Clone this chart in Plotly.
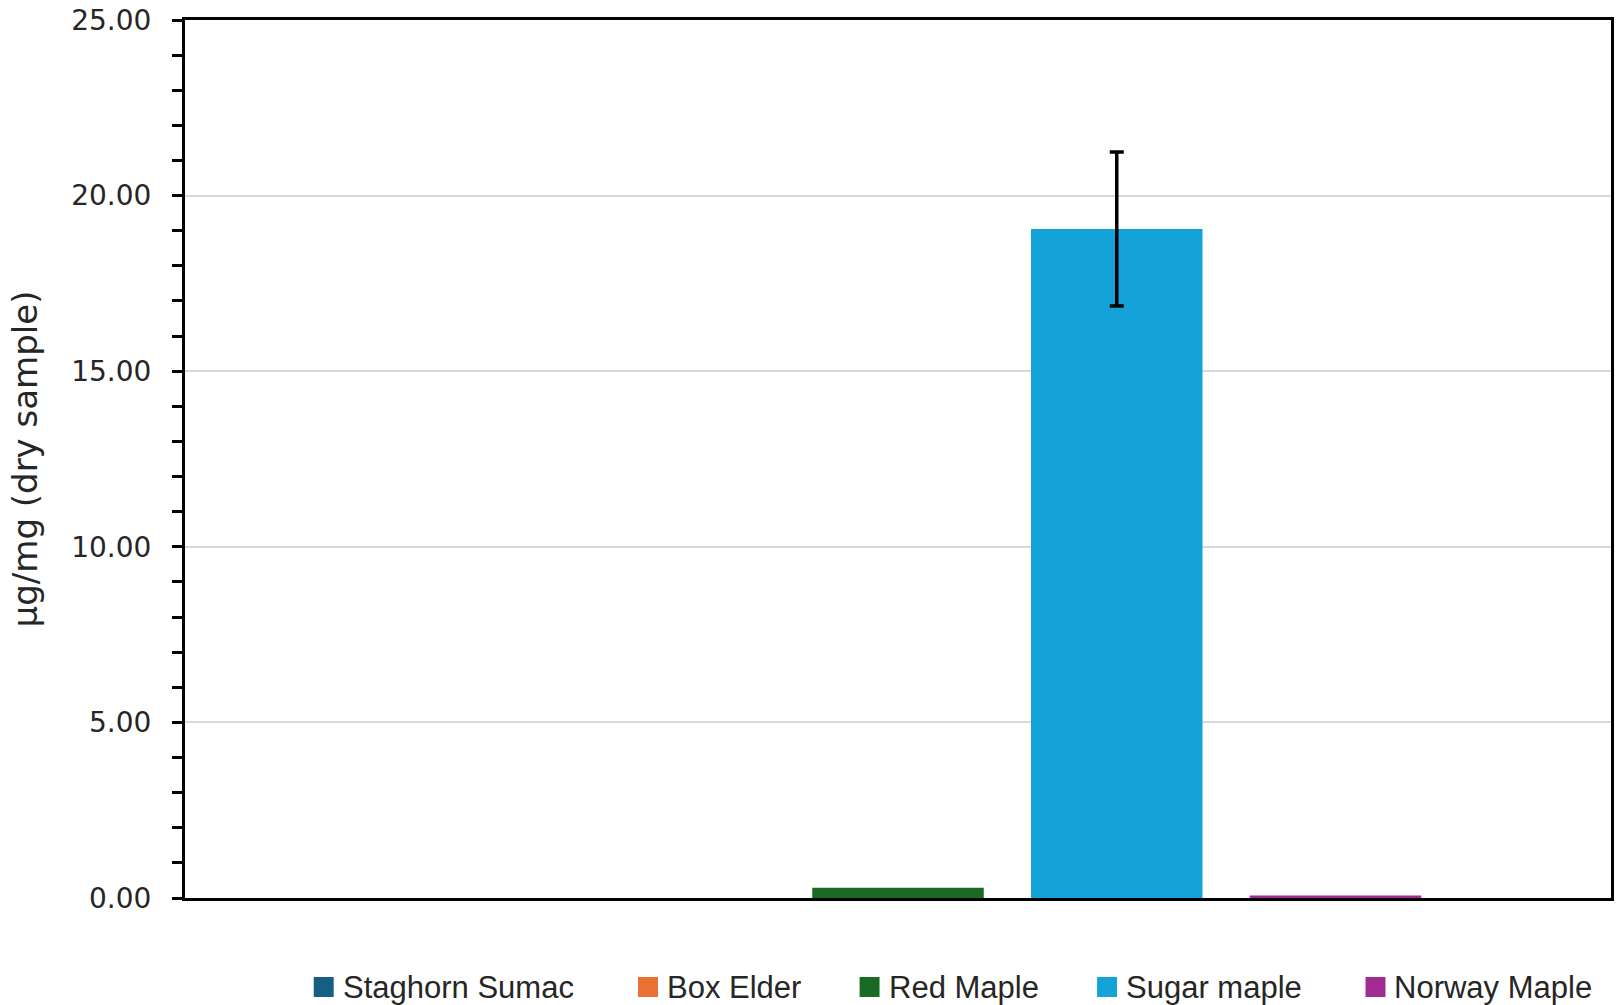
import plotly.graph_objects as go

# Leaf sample concentrations (µg/mg, dry sample) by tree species
species = ["Staghorn Sumac", "Box Elder", "Red Maple", "Sugar maple", "Norway Maple"]
means = [0.0, 0.0, 0.29, 19.05, 0.07]
errors = [None, None, None, 2.19, None]
colors = ["#156082", "#E97132", "#196B24", "#13A3D8", "#A02B93"]

y_ticks = [0, 5, 10, 15, 20, 25]
y_tick_text = ["0.00", "5.00", "10.00", "15.00", "20.00", "25.00"]

W, H = 1616, 1005
L, R, T, B = 185, 2, 20, 107
plot_w, plot_h = W - L - R, H - T - B


def px_x(px):
    return (px - L) / plot_w


def px_y(py):
    return (H - B - py) / plot_h


fig = go.Figure()
for name, val, err, col in zip(species, means, errors, colors):
    fig.add_trace(go.Bar(
        x=[""],
        y=[val],
        name=name,
        marker=dict(color=col, line=dict(width=0)),
        error_y=dict(type="data", array=[err], visible=err is not None,
                     color="black", thickness=3.5, width=7),
        showlegend=False,
    ))

# Legend drawn below the plot: colour squares with species names
legend_square_left = [314, 639, 861, 1099, 1368]
for name, col, sx in zip(species, colors, legend_square_left):
    fig.add_shape(type="rect", xref="paper", yref="paper",
                  x0=px_x(sx), x1=px_x(sx + 20), y0=px_y(997), y1=px_y(977),
                  fillcolor=col, line=dict(width=0))
    fig.add_annotation(text=name, xref="paper", yref="paper",
                       x=px_x(sx + 27), y=px_y(987), xanchor="left", yanchor="middle",
                       showarrow=False,
                       font=dict(family="Liberation Sans, Arial, sans-serif",
                                 size=31, color="#262626"))

fig.update_layout(
    barmode="group",
    bargap=0.233,
    bargroupgap=0.216,
    width=W,
    height=H,
    margin=dict(l=L, r=R, t=T, b=B),
    paper_bgcolor="white",
    plot_bgcolor="white",
    font=dict(family="DejaVu Sans, sans-serif", color="#262626", size=28),
    showlegend=False,
)

fig.update_xaxes(
    range=[-0.5, 0.5],
    showticklabels=False,
    ticks="",
    showgrid=False,
    showline=True, linecolor="black", linewidth=3,
    mirror=True,
)

fig.update_yaxes(
    range=[0, 25],
    tickvals=y_ticks,
    ticktext=y_tick_text,
    ticks="outside", ticklen=10, tickwidth=2.5, tickcolor="black",
    minor=dict(dtick=1, ticks="outside", ticklen=10, tickwidth=2.5,
               tickcolor="black", showgrid=False),
    showgrid=True, gridcolor="#d9d9d9", gridwidth=2,
    showline=True, linecolor="black", linewidth=3,
    mirror=True,
    zeroline=False,
    tickfont=dict(family="DejaVu Sans, sans-serif", size=28),
    ticklabelstandoff=15,
    title=dict(text="µg/mg (dry sample)",
               font=dict(family="DejaVu Sans, sans-serif", size=34),
               standoff=24),
)

fig.write_html("out.html")
